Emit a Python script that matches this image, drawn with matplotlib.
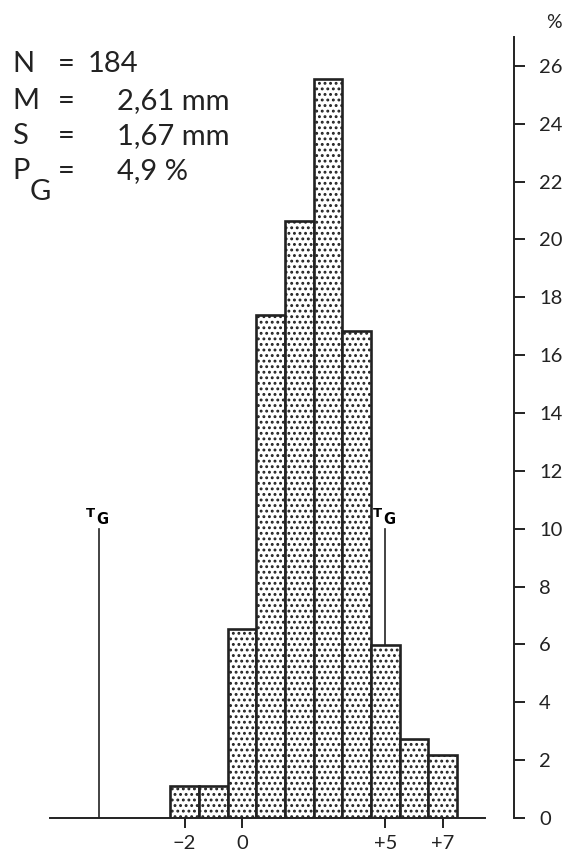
import numpy as np
import matplotlib
matplotlib.use("Agg")
import matplotlib.pyplot as plt

plt.rcParams['font.family'] = ['Lato', 'DejaVu Sans']
plt.rcParams['hatch.linewidth'] = 1.3
plt.rcParams['hatch.color'] = '#3a3a3a'

# class centres (mm) and share of the sample in percent
classes = [-2, -1, 0, 1, 2, 3, 4, 5, 6, 7]
percent = [1.09, 1.09, 6.52, 17.39, 20.65, 25.54, 16.85, 5.98, 2.72, 2.17]

# limits T_G and the height of their marker lines
limit_pos = [-5, 5]
limit_height = 10

x_ticks = [-2, 0, 5, 7]
x_tick_labels = ['\u22122', '0', '+5', '+7']
y_ticks = list(range(0, 27, 2))

stats_names = ['N', 'M', 'S', 'P']
stats_values = ['184', '2,61 mm', '1,67 mm', '4,9 %']

fig = plt.figure(figsize=(5.67, 8.57), dpi=100)
ax = fig.add_axes([0.0, 39 / 857, 514 / 567, 781 / 857])

# limit lines go behind the bars
for xp in limit_pos:
    ax.plot([xp, xp], [0, limit_height], color='#222222', lw=1.2, zorder=1)
    ax.text(xp - 0.45, limit_height + 0.3, 'T', fontsize=9.5, fontweight='bold',
            family='DejaVu Sans', ha='left', va='bottom', zorder=3)
    ax.text(xp - 0.08, limit_height + 0.05, 'G', fontsize=10.5, fontweight='bold',
            family='DejaVu Sans', ha='left', va='bottom', zorder=3)

ax.bar(classes, percent, width=1.0, facecolor='white', edgecolor='#222222',
       linewidth=1.9, hatch='...', zorder=2)

ax.set_xlim(-8.44, 9.49)
ax.set_ylim(0, 27)

for side in ['top', 'left']:
    ax.spines[side].set_visible(False)
ax.spines['bottom'].set_bounds(-6.7, 8.48)
ax.spines['right'].set_bounds(0, 27)
ax.spines['bottom'].set_linewidth(1.4)
ax.spines['right'].set_linewidth(1.4)
ax.spines['bottom'].set_color('#222222')
ax.spines['right'].set_color('#222222')

ax.yaxis.tick_right()
ax.set_yticks(y_ticks)
ax.set_xticks(x_ticks)
ax.set_xticklabels(x_tick_labels)
ax.tick_params(axis='y', direction='out', length=8, width=1.4, pad=10,
               labelsize=14.5, colors='#222222')
ax.tick_params(axis='x', direction='out', length=7, width=1.4, pad=5,
               labelsize=14.5, colors='#222222')

fig.text(546 / 567, 1 - 22 / 857, '%', fontsize=14, ha='left', va='center',
         color='#222222')

# summary block, top left
row_y = [64, 101, 136, 171]
for name, value, yy in zip(stats_names, stats_values, row_y):
    fy = 1 - yy / 857
    fig.text(12 / 567, fy, name, fontsize=21, ha='left', va='center', color='#222222')
    fig.text(58 / 567, fy, '=', fontsize=21, ha='left', va='center', color='#222222')
    vx = 88 if name == 'N' else 117
    fig.text(vx / 567, fy, value, fontsize=21, ha='left', va='center', color='#222222')
fig.text(30 / 567, 1 - 192 / 857, 'G', fontsize=21, ha='left', va='center', color='#222222')

fig.savefig('out.png', dpi=100)
